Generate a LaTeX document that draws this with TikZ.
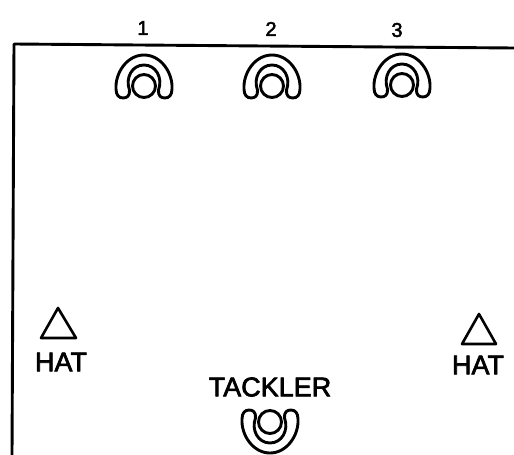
\documentclass[tikz,border=0pt]{standalone}
\usepackage{fontspec}
\newfontfamily\hfont{Liberation Sans}[FakeBold=2.5]
\begin{document}
\begin{tikzpicture}[x=1pt,y=-1pt,line width=2.9pt,line join=round,line cap=round,
  lbl/.style={font=\hfont\fontsize{20}{22}\selectfont,inner sep=0pt},
  biglbl/.style={font=\hfont\fontsize{27}{30}\selectfont,inner sep=0pt},
  player/.pic={
    \draw (-28,3) .. controls (-29,-13) and (-17,-31) .. (0,-31)
          .. controls (17,-31) and (29,-13) .. (28,3)
          .. controls (28,9) and (25,12) .. (21,12)
          .. controls (17,12) and (14,10) .. (14.5,4)
          .. controls (19,-8) and (12,-21) .. (0,-21)
          .. controls (-12,-21) and (-19,-8) .. (-14.5,4)
          .. controls (-14,10) and (-17,12) .. (-21,12)
          .. controls (-25,12) and (-28,9) .. (-28,3) -- cycle;
    \draw (0,0) circle (11.5);
  }
]
\useasboundingbox (0,0) rectangle (514,455);
\coordinate (tl) at (14,44);
\coordinate (tr) at (514,48);
\coordinate (bl) at (12,455);
\draw (bl) -- (tl) -- (tr);

\node[lbl] (n1) at (143,28) {1};
\node[lbl] (n2) at (271,29) {2};
\node[lbl] (n3) at (397,30) {3};

\pic at (144,86) {player};
\pic at (272,86) {player};
\pic at (402,85) {player};

\draw[line width=2.6pt] (58,308) -- (76,338) -- (41,338) -- cycle;
\node[biglbl] (h1) at (61,362) {HAT};
\draw[line width=2.6pt] (479,314) -- (496,344) -- (462,344) -- cycle;
\node[biglbl] (h2) at (478,365) {HAT};

\node[biglbl] (t) at (270,387) {TACKLER};
\pic[yscale=-1] at (270,422) {player};
\end{tikzpicture}
\end{document}
